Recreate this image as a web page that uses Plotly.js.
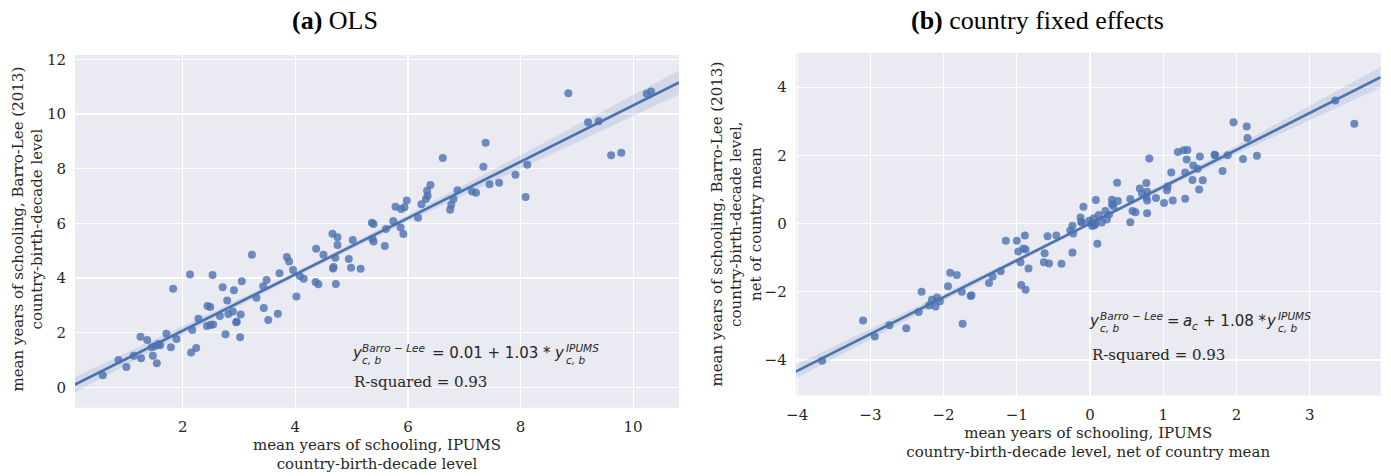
<!DOCTYPE html>
<html>
<head>
<meta charset="utf-8">
<script src="https://cdn.plot.ly/plotly-3.0.1.min.js"></script>
<style>html,body{margin:0;padding:0;background:#fff;}#chart{width:1391px;height:476px;}</style>
</head>
<body>
<div id="chart"></div>
<script>
// ---------- data ----------
const olsX = [0.58,0.86,1.00,1.13,1.25,1.26,1.37,1.45,1.47,1.54,1.51,1.60,1.57,1.71,1.79,1.83,1.89,2.13,2.15,2.17,2.24,2.28,2.44,2.49,2.43,2.49,2.54,2.53,2.66,2.71,2.76,2.79,2.81,2.89,2.91,2.95,2.96,3.02,3.03,3.05,3.23,3.31,3.43,3.44,3.49,3.52,3.69,3.72,3.85,3.89,3.96,4.02,4.08,4.15,4.37,4.36,4.41,4.50,4.66,4.75,4.75,4.71,4.67,4.68,4.72,4.95,4.99,5.02,5.16,5.36,5.39,5.39,5.37,5.74,5.61,5.87,5.92,5.59,6.18,5.78,5.88,5.94,5.98,6.24,6.32,6.35,6.34,6.40,6.62,6.75,6.77,6.81,6.88,7.14,7.21,7.34,7.38,7.45,7.62,7.91,8.09,8.12,8.85,9.20,9.39,9.61,9.79,10.24,10.32];
const olsY = [0.44,1.00,0.74,1.15,1.85,1.06,1.73,1.47,1.15,0.88,1.51,1.54,1.58,1.96,1.47,3.61,1.77,4.13,1.27,2.10,1.44,2.51,2.97,2.94,2.24,2.28,2.30,4.11,2.61,3.66,1.94,3.18,2.68,2.77,3.55,2.38,2.40,1.83,2.66,3.88,4.85,3.28,3.70,2.90,3.93,2.46,2.69,4.17,4.77,4.60,4.29,3.32,4.07,3.97,5.07,3.85,3.77,4.85,5.62,5.49,5.21,4.74,4.35,4.40,3.78,4.69,4.37,5.39,4.34,6.02,5.97,5.33,5.43,6.08,5.79,5.85,5.61,5.17,6.20,6.61,6.52,6.59,6.83,6.70,6.89,7.01,7.19,7.40,8.39,6.50,6.68,6.89,7.21,7.16,7.12,8.07,8.95,7.43,7.48,7.78,6.96,8.14,10.76,9.70,9.73,8.49,8.58,10.74,10.82];

const feX = [-3.66,-3.10,-2.94,-2.74,-2.51,-2.34,-2.30,-2.20,-2.16,-2.11,-2.09,-2.05,-1.94,-1.91,-1.82,-1.75,-1.74,-1.63,-1.62,-1.38,-1.33,-1.22,-1.15,-1.00,-0.98,-0.91,-0.88,-0.89,-0.95,-0.94,-0.88,-0.84,-0.62,-0.63,-0.56,-0.58,-0.46,-0.39,-0.27,-0.24,-0.23,-0.24,-0.12,0.02,0.06,0.10,-0.13,-0.11,-0.09,-0.01,0.03,0.05,0.08,0.07,0.12,0.16,0.21,0.23,0.26,0.30,0.30,0.32,0.37,0.38,0.55,0.55,0.58,0.62,0.68,0.71,0.77,0.77,0.78,0.78,0.78,0.81,0.90,1.01,1.05,1.06,1.11,1.13,1.20,1.28,1.33,1.30,1.30,1.32,1.40,1.41,1.47,1.49,1.50,1.54,1.70,1.71,1.81,1.88,1.96,2.09,2.14,2.15,2.28,3.35,3.61];
const feY = [-4.02,-2.84,-3.31,-2.98,-3.07,-2.59,-2.00,-2.40,-2.23,-2.43,-2.17,-2.28,-1.84,-1.44,-1.51,-2.00,-2.94,-2.12,-2.10,-1.74,-1.55,-1.40,-0.50,-0.50,-0.82,-0.73,-0.76,-0.35,-1.13,-1.80,-1.94,-1.32,-0.87,-1.13,-1.17,-0.37,-0.35,-1.18,-0.20,-0.06,-0.29,-0.85,0.05,0.00,-0.05,-0.59,0.18,0.03,0.49,0.08,-0.07,0.16,0.69,-0.01,0.25,0.03,0.37,0.12,0.27,0.70,0.57,0.51,1.20,0.66,0.72,0.04,0.37,0.33,1.03,0.88,1.19,0.78,0.93,0.68,0.30,1.91,0.75,0.60,0.98,1.09,1.50,0.68,2.10,2.15,2.16,1.50,0.73,1.88,1.28,1.70,1.61,1.00,1.97,1.27,2.02,2.00,1.54,2.00,2.97,1.89,2.85,2.51,1.99,3.61,2.93];

// fitted lines and confidence bands
const olsLineX = [0.087, 10.815];
const olsLineY = [0.10, 11.15];
const olsBandX = [0.087, 2, 4, 6, 8, 10.815];
const olsBandLo = [-0.18, 1.91, 4.04, 6.07, 8.01, 10.71];
const olsBandHi = [0.38, 2.23, 4.22, 6.31, 8.49, 11.59];

const feLineX = [-4.02, 3.97];
const feLineY = [-4.34, 4.29];
const feBandX = [-4.02, -2, 0, 2, 3.97];
const feBandLo = [-4.54, -2.26, -0.04, 2.04, 3.99];
const feBandHi = [-4.14, -2.06, 0.04, 2.28, 4.59];

const panelTitles = ['<b>(a)</b> OLS', '<b>(b)</b> country fixed effects'];
const olsXTitle = 'mean years of schooling, IPUMS<br>country-birth-decade level';
const olsYTitle = 'mean years of schooling, Barro-Lee (2013)<br>country-birth-decade level';
const feXTitle = 'mean years of schooling, IPUMS<br>country-birth-decade level, net of country mean';
const feYTitle = 'mean years of schooling, Barro-Lee (2013)<br>country-birth-decade level,<br>net of country mean';
const olsEq = ['0.01', '1.03'];
const feEq = ['1.08'];
const rsq = ['R-squared = 0.93', 'R-squared = 0.93'];

// ---------- styling ----------
const BLUE = '#4C72B0';
const TXT = '#262626';
const SERIF = 'DejaVu Serif, serif';
const SANS = 'DejaVu Sans, sans-serif';

function band(xs, lo, hi, xa, ya) {
  return {
    x: xs.concat(xs.slice().reverse()),
    y: hi.concat(lo.slice().reverse()),
    xaxis: xa, yaxis: ya, type: 'scatter', mode: 'lines', fill: 'toself',
    fillcolor: 'rgba(76,114,176,0.15)', line: {width: 0, color: 'rgba(0,0,0,0)'},
    hoverinfo: 'skip', showlegend: false
  };
}
function pts(xs, ys, xa, ya) {
  return {x: xs, y: ys, xaxis: xa, yaxis: ya, type: 'scatter', mode: 'markers',
    marker: {color: 'rgba(76,114,176,0.8)', size: 8, line: {width: 0}}, showlegend: false};
}
function line(xs, ys, xa, ya) {
  return {x: xs, y: ys, xaxis: xa, yaxis: ya, type: 'scatter', mode: 'lines',
    line: {color: BLUE, width: 2.6}, showlegend: false};
}

const data = [
  pts(olsX, olsY, 'x', 'y'),
  band(olsBandX, olsBandLo, olsBandHi, 'x', 'y'),
  line(olsLineX, olsLineY, 'x', 'y'),
  pts(feX, feY, 'x2', 'y2'),
  band(feBandX, feBandLo, feBandHi, 'x2', 'y2'),
  line(feLineX, feLineY, 'x2', 'y2')
];

const tickfont = {family: SERIF, size: 15, color: TXT};
const titlefont = {family: SERIF, size: 15, color: TXT};
function axis(extra) {
  return Object.assign({
    showgrid: true, gridcolor: '#ffffff', gridwidth: 1.2, zeroline: false, showline: false,
    ticks: 'outside', ticklen: 5, tickcolor: 'rgba(0,0,0,0)', tickfont: tickfont, fixedrange: true
  }, extra);
}

// equation pieces: [text, xshift(px), yshift(px), size]
function eqPieces(xref, yref, x0, y0, pieces) {
  return pieces.map(p => ({
    xref: xref, yref: yref, x: x0, y: y0, xanchor: 'left', yanchor: 'middle',
    xshift: p[1], yshift: p[2], showarrow: false, text: p[0],
    font: {family: SANS, size: p[3], color: TXT}
  }));
}

const annotations = [
  {xref: 'paper', yref: 'paper', x: 335/1391, y: 1 - 21/476, xanchor: 'center', yanchor: 'middle',
   showarrow: false, text: panelTitles[0], font: {family: 'Liberation Serif, serif', size: 26, color: '#000'}},
  {xref: 'paper', yref: 'paper', x: 1037/1391, y: 1 - 21/476, xanchor: 'center', yanchor: 'middle',
   showarrow: false, text: panelTitles[1], font: {family: 'Liberation Serif, serif', size: 26, color: '#000'}},
  // y-axis titles (rotated)
  {xref: 'paper', yref: 'paper', x: 27.5/1391, y: 1 - 229/476, xanchor: 'center', yanchor: 'middle',
   textangle: -90, showarrow: false, text: olsYTitle, font: titlefont},
  {xref: 'paper', yref: 'paper', x: 735.5/1391, y: 1 - 224/476, xanchor: 'center', yanchor: 'middle',
   textangle: -90, showarrow: false, text: feYTitle, font: titlefont},
  {xref: 'x', yref: 'y', x: 5.0, y: 0.2, xanchor: 'left', yanchor: 'middle', showarrow: false,
   text: rsq[0], font: {family: SERIF, size: 15, color: TXT}},
  {xref: 'x2', yref: 'y2', x: 0.0, y: -3.84, xanchor: 'left', yanchor: 'middle', showarrow: false,
   text: rsq[1], font: {family: SERIF, size: 15, color: TXT}}
].concat(
  eqPieces('x', 'y', 5.0, 1.244, [
    ['<i>y</i>', -2, 0, 15],
    ['<i>Barro</i> − <i>Lee</i>', 8.5, 5, 10.5],
    ['<i>c, b</i>', 8.5, -7, 10.5],
    ['= ' + olsEq[0] + ' + ' + olsEq[1] + ' *', 78, 0, 15],
    ['<i>y</i>', 200, 0, 15],
    ['<i>IPUMS</i>', 212, 5, 10.5],
    ['<i>c, b</i>', 212, -7, 10.5]
  ]),
  eqPieces('x2', 'y2', 0.0, -2.845, [
    ['<i>y</i>', -3, 0, 15],
    ['<i>Barro</i> − <i>Lee</i>', 8, 5, 10.5],
    ['<i>c, b</i>', 8, -7, 10.5],
    ['=', 75, 0, 15],
    ['<i>a</i>', 91, 0, 15],
    ['<i>c</i>', 100, -5, 10.5],
    ['+ ' + feEq[0] + ' *', 111, 0, 15],
    ['<i>y</i>', 174, 0, 15],
    ['<i>IPUMS</i>', 186, 5, 10.5],
    ['<i>c, b</i>', 186, -7, 10.5]
  ])
);

const layout = {
  width: 1391, height: 476,
  margin: {l: 0, r: 0, t: 0, b: 0},
  paper_bgcolor: '#ffffff', plot_bgcolor: '#EAEAF2',
  showlegend: false,
  xaxis: axis({domain: [75/1391, 679/1391], range: [0.087, 10.815], tick0: 0, dtick: 2, anchor: 'y',
    title: {text: olsXTitle, font: titlefont, standoff: 3}}),
  yaxis: axis({domain: [1 - 407.7/476, 1 - 55/476], range: [-0.746, 12.157], tick0: 0, dtick: 2, anchor: 'x'}),
  xaxis2: axis({domain: [795.7/1391, 1380.7/1391], range: [-4.02, 3.97], tick0: 0, dtick: 1, anchor: 'y2',
    title: {text: feXTitle, font: titlefont, standoff: 0}}),
  yaxis2: axis({domain: [1 - 395.5/476, 1 - 52.7/476], range: [-5.04, 5.01], tick0: 0, dtick: 2, anchor: 'x2'}),
  annotations: annotations
};

Plotly.newPlot('chart', data, layout, {staticPlot: true, displayModeBar: false});
</script>
</body>
</html>
